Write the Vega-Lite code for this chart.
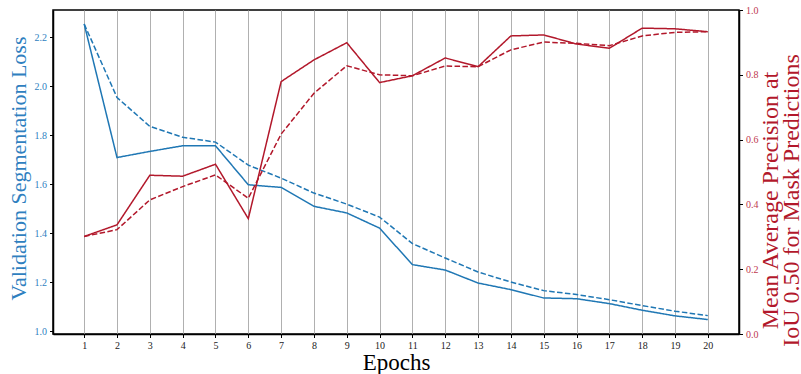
{
  "$schema": "https://vega.github.io/schema/vega-lite/v6.json",
  "autosize": "none",
  "padding": {"left": 53, "top": 10, "right": 62, "bottom": 40},
  "width": 686,
  "height": 324,
  "background": "white",
  "config": {
    "view": {"stroke": "black", "strokeWidth": 1.5},
    "font": "Liberation Serif",
    "axis": {"labelFont": "Liberation Serif", "titleFont": "Liberation Serif", "titleFontWeight": "normal", "domainColor": "black", "domainWidth": 1.5, "tickColor": "black", "tickSize": 3.5, "labelFontSize": 10, "labelOverlap": false, "labelFlush": false}
  },
  "datasets": {
    "rows": [
      {"epoch": 1, "metric": "loss", "style": "solid", "value": 2.254},
      {"epoch": 2, "metric": "loss", "style": "solid", "value": 1.709},
      {"epoch": 3, "metric": "loss", "style": "solid", "value": 1.734},
      {"epoch": 4, "metric": "loss", "style": "solid", "value": 1.757},
      {"epoch": 5, "metric": "loss", "style": "solid", "value": 1.757},
      {"epoch": 6, "metric": "loss", "style": "solid", "value": 1.598},
      {"epoch": 7, "metric": "loss", "style": "solid", "value": 1.587},
      {"epoch": 8, "metric": "loss", "style": "solid", "value": 1.510},
      {"epoch": 9, "metric": "loss", "style": "solid", "value": 1.483},
      {"epoch": 10, "metric": "loss", "style": "solid", "value": 1.421},
      {"epoch": 11, "metric": "loss", "style": "solid", "value": 1.272},
      {"epoch": 12, "metric": "loss", "style": "solid", "value": 1.250},
      {"epoch": 13, "metric": "loss", "style": "solid", "value": 1.197},
      {"epoch": 14, "metric": "loss", "style": "solid", "value": 1.170},
      {"epoch": 15, "metric": "loss", "style": "solid", "value": 1.136},
      {"epoch": 16, "metric": "loss", "style": "solid", "value": 1.133},
      {"epoch": 17, "metric": "loss", "style": "solid", "value": 1.113},
      {"epoch": 18, "metric": "loss", "style": "solid", "value": 1.086},
      {"epoch": 19, "metric": "loss", "style": "solid", "value": 1.063},
      {"epoch": 20, "metric": "loss", "style": "solid", "value": 1.048},
      {"epoch": 1, "metric": "loss", "style": "dashed", "value": 2.254},
      {"epoch": 2, "metric": "loss", "style": "dashed", "value": 1.954},
      {"epoch": 3, "metric": "loss", "style": "dashed", "value": 1.836},
      {"epoch": 4, "metric": "loss", "style": "dashed", "value": 1.792},
      {"epoch": 5, "metric": "loss", "style": "dashed", "value": 1.772},
      {"epoch": 6, "metric": "loss", "style": "dashed", "value": 1.678},
      {"epoch": 7, "metric": "loss", "style": "dashed", "value": 1.625},
      {"epoch": 8, "metric": "loss", "style": "dashed", "value": 1.564},
      {"epoch": 9, "metric": "loss", "style": "dashed", "value": 1.519},
      {"epoch": 10, "metric": "loss", "style": "dashed", "value": 1.466},
      {"epoch": 11, "metric": "loss", "style": "dashed", "value": 1.358},
      {"epoch": 12, "metric": "loss", "style": "dashed", "value": 1.299},
      {"epoch": 13, "metric": "loss", "style": "dashed", "value": 1.242},
      {"epoch": 14, "metric": "loss", "style": "dashed", "value": 1.201},
      {"epoch": 15, "metric": "loss", "style": "dashed", "value": 1.166},
      {"epoch": 16, "metric": "loss", "style": "dashed", "value": 1.150},
      {"epoch": 17, "metric": "loss", "style": "dashed", "value": 1.129},
      {"epoch": 18, "metric": "loss", "style": "dashed", "value": 1.105},
      {"epoch": 19, "metric": "loss", "style": "dashed", "value": 1.082},
      {"epoch": 20, "metric": "loss", "style": "dashed", "value": 1.064},
      {"epoch": 1, "metric": "map", "style": "solid", "value": 0.301},
      {"epoch": 2, "metric": "map", "style": "solid", "value": 0.337},
      {"epoch": 3, "metric": "map", "style": "solid", "value": 0.490},
      {"epoch": 4, "metric": "map", "style": "solid", "value": 0.487},
      {"epoch": 5, "metric": "map", "style": "solid", "value": 0.524},
      {"epoch": 6, "metric": "map", "style": "solid", "value": 0.356},
      {"epoch": 7, "metric": "map", "style": "solid", "value": 0.779},
      {"epoch": 8, "metric": "map", "style": "solid", "value": 0.846},
      {"epoch": 9, "metric": "map", "style": "solid", "value": 0.899},
      {"epoch": 10, "metric": "map", "style": "solid", "value": 0.776},
      {"epoch": 11, "metric": "map", "style": "solid", "value": 0.797},
      {"epoch": 12, "metric": "map", "style": "solid", "value": 0.852},
      {"epoch": 13, "metric": "map", "style": "solid", "value": 0.825},
      {"epoch": 14, "metric": "map", "style": "solid", "value": 0.920},
      {"epoch": 15, "metric": "map", "style": "solid", "value": 0.923},
      {"epoch": 16, "metric": "map", "style": "solid", "value": 0.895},
      {"epoch": 17, "metric": "map", "style": "solid", "value": 0.882},
      {"epoch": 18, "metric": "map", "style": "solid", "value": 0.944},
      {"epoch": 19, "metric": "map", "style": "solid", "value": 0.942},
      {"epoch": 20, "metric": "map", "style": "solid", "value": 0.933},
      {"epoch": 1, "metric": "map", "style": "dashed", "value": 0.301},
      {"epoch": 2, "metric": "map", "style": "dashed", "value": 0.322},
      {"epoch": 3, "metric": "map", "style": "dashed", "value": 0.414},
      {"epoch": 4, "metric": "map", "style": "dashed", "value": 0.455},
      {"epoch": 5, "metric": "map", "style": "dashed", "value": 0.491},
      {"epoch": 6, "metric": "map", "style": "dashed", "value": 0.419},
      {"epoch": 7, "metric": "map", "style": "dashed", "value": 0.617},
      {"epoch": 8, "metric": "map", "style": "dashed", "value": 0.743},
      {"epoch": 9, "metric": "map", "style": "dashed", "value": 0.828},
      {"epoch": 10, "metric": "map", "style": "dashed", "value": 0.800},
      {"epoch": 11, "metric": "map", "style": "dashed", "value": 0.797},
      {"epoch": 12, "metric": "map", "style": "dashed", "value": 0.827},
      {"epoch": 13, "metric": "map", "style": "dashed", "value": 0.825},
      {"epoch": 14, "metric": "map", "style": "dashed", "value": 0.877},
      {"epoch": 15, "metric": "map", "style": "dashed", "value": 0.901},
      {"epoch": 16, "metric": "map", "style": "dashed", "value": 0.897},
      {"epoch": 17, "metric": "map", "style": "dashed", "value": 0.890},
      {"epoch": 18, "metric": "map", "style": "dashed", "value": 0.920},
      {"epoch": 19, "metric": "map", "style": "dashed", "value": 0.931},
      {"epoch": 20, "metric": "map", "style": "dashed", "value": 0.933}
    ]
  },
  "data": {"name": "rows"},
  "encoding": {
    "x": {
      "field": "epoch", "type": "quantitative",
      "scale": {"domain": [0.05, 20.95], "nice": false, "zero": false},
      "axis": {"values": [1,2,3,4,5,6,7,8,9,10,11,12,13,14,15,16,17,18,19,20], "tickCount": 20, "format": "d", "labelOverlap": false, "labelSeparation": 0, "labelBound": false, "grid": true, "gridColor": "#b0b0b0", "gridWidth": 1, "gridOpacity": 1, "labelColor": "#222222", "labelPadding": 3, "title": "Epochs", "titleFontSize": 23, "titleColor": "black", "titleBaseline": "alphabetic", "titleY": 35}
    },
    "strokeDash": {
      "field": "style", "type": "nominal",
      "scale": {"domain": ["solid", "dashed"], "range": [[1, 0], [5.5, 2.4]]},
      "legend": null
    }
  },
  "layer": [
    {
      "transform": [{"filter": "datum.metric === 'loss'"}],
      "mark": {"type": "line", "color": "#1f77b4", "strokeWidth": 1.5},
      "encoding": {
        "y": {
          "field": "value", "type": "quantitative",
          "scale": {"domain": [0.989, 2.311], "nice": false, "zero": false},
          "axis": {"values": [1.0, 1.2, 1.4, 1.6, 1.8, 2.0, 2.2], "format": ".1f", "grid": false, "labelColor": "#2f7fbf", "labelPadding": 3, "title": "Validation Segmentation Loss", "titleColor": "#2f7fbf", "titleFontSize": 22, "titleAngle": 270, "titleBaseline": "middle", "titleAlign": "center", "titleX": -35, "titleY": 158}
        }
      }
    },
    {
      "transform": [{"filter": "datum.metric === 'map'"}],
      "mark": {"type": "line", "color": "#b2182b", "strokeWidth": 1.5},
      "encoding": {
        "y": {
          "field": "value", "type": "quantitative",
          "scale": {"domain": [0, 1], "nice": false, "zero": false},
          "axis": {"orient": "right", "values": [0, 0.2, 0.4, 0.6, 0.8, 1.0], "format": ".1f", "grid": false, "labelColor": "#c0394f", "labelPadding": 3, "title": ["Mean Average Precision at", "IoU 0.50 for Mask Predictions"], "titleColor": "#b2182b", "titleFontSize": 24, "titleAngle": 270, "titleBaseline": "middle", "titleAlign": "center", "titleLineHeight": 21, "titleX": 31, "titleY": 190}
        }
      }
    }
  ],
  "resolve": {"scale": {"y": "independent"}}
}
